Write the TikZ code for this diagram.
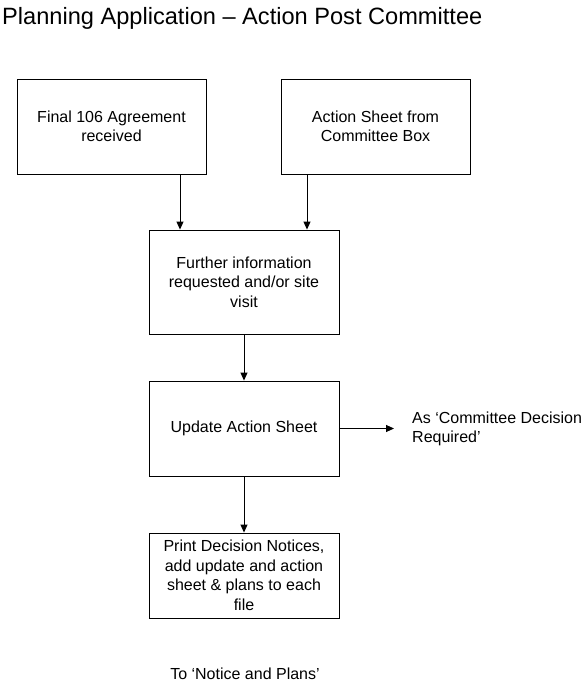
\documentclass[tikz,border=0pt]{standalone}
\usepackage{fontspec}
\setmainfont{Liberation Sans}
\usepackage{tikz}
\usetikzlibrary{arrows.meta,positioning}

\tikzset{
    stepbox/.style={draw, line width=0.9pt, align=center, minimum width=189pt,
        font=\fontsize{16}{19.5}\selectfont},
    flow/.style={line width=0.9pt, -{Triangle[length=8pt,width=7pt]}},
    plain/.style={inner sep=0, font=\fontsize{16}{19.5}\selectfont}
}

\begin{document}
\begin{tikzpicture}[x=1pt, y=-1pt]
    % Page
    \useasboundingbox (0,0) rectangle (586,687);

    % Title
    \node[anchor=base west, inner sep=0, font=\fontsize{23.6}{28}\selectfont] (title) at (2,25)
        {Planning Application – Action Post Committee};

    % Boxes
    \node[stepbox, minimum height=95pt] (final) at (111.5,126.5) {Final 106 Agreement\\received};
    \node[stepbox, minimum height=95pt] (sheet) at (375.5,126.5) {Action Sheet from\\Committee Box};
    \node[stepbox, minimum width=190pt, minimum height=104pt] (further) at (244,282)
        {Further information\\requested and/or site\\visit};
    \node[stepbox, minimum width=190pt, minimum height=95pt] (update) at (244,428.5) {Update Action Sheet};
    \node[stepbox, minimum width=190pt, minimum height=85pt] (notices) at (244,575.5)
        {Print Decision Notices,\\add update and action\\sheet \& plans to each\\file};

    % Side and bottom texts
    \node[plain, anchor=north west, align=left] (req) at (412,411.5)
        {As ‘Committee Decision\\Required’};
    \node[plain] (toplans) at (245,674) {To ‘Notice and Plans’};
    \coordinate (reqtip) at (394,428.5);

    % Arrows
    \draw[flow] (180,0 |- final.south) -- (180,0 |- further.north);
    \draw[flow] (307,0 |- sheet.south) -- (307,0 |- further.north);
    \draw[flow] (further) -- (update);
    \draw[flow] (update) -- (notices);
    \draw[flow] (update.east) -- (reqtip);
\end{tikzpicture}
\end{document}
